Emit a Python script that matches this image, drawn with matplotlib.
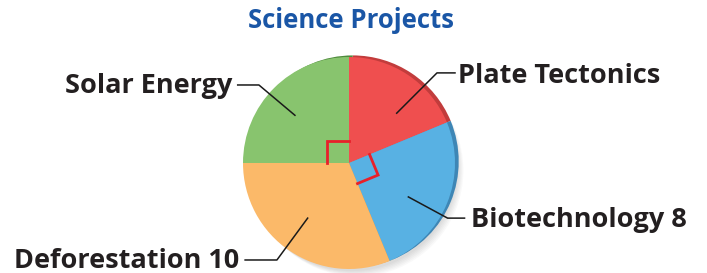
import numpy as np
import matplotlib.pyplot as plt
from matplotlib.patches import Wedge

# slices, clockwise from 12 o'clock
names = ["Plate Tectonics", "Biotechnology", "Deforestation", "Solar Energy"]
values = [6, 8, 10, 8]
shown = [None, 8, 10, None]
colors = ["#ef4f4f", "#58b1e3", "#fbb969", "#88c46e"]
rims = ["#c23c3c", "#3e86b5", "#d9953f", "#4e8a3c"]

# label anchors: (wedge point, elbow, line end, text x, text baseline, ha)
label_pos = [
    ((0.45, 0.47), (0.83, 0.85), (1.00, 0.85), 1.03, 0.755, "left"),
    ((0.56, -0.32), (0.93, -0.52), (1.09, -0.52), 1.155, -0.60, "left"),
    ((-0.39, -0.52), (-0.68, -0.915), (-0.98, -0.915), -1.035, -0.99, "right"),
    ((-0.51, 0.45), (-0.85, 0.736), (-1.05, 0.736), -1.10, 0.66, "right"),
]

fig = plt.figure(figsize=(7.07, 2.73), dpi=100)
ax = fig.add_axes([0, 0, 1, 1])
ax.set_xlim(-349 / 106, (707 - 349) / 106)
ax.set_ylim(-110 / 106, 163 / 106)
ax.set_aspect("equal")
ax.axis("off")

total = sum(values)
start = 90.0
angles = []
for v in values:
    sweep = 360.0 * v / total
    angles.append((start - sweep, start))
    start -= sweep

# soft shadow and darker rim behind
for k in range(6):
    ax.add_patch(Wedge((0.03 + 0.01 * k, -0.02 - 0.01 * k), 1.0, 0, 360,
                       facecolor="black", alpha=0.025, lw=0, zorder=1))
for (a0, a1), c in zip(angles, rims):
    ax.add_patch(Wedge((0.035, 0.015), 1.0, a0, a1, facecolor=c, lw=0, zorder=2))
for (a0, a1), c in zip(angles, colors):
    ax.add_patch(Wedge((0, 0), 1.0, a0, a1, facecolor=c, lw=0, zorder=3))

# right-angle marks on the 90 degree slices
s = 0.21
for i in (1, 3):
    a0, a1 = np.radians(angles[i])
    p0 = np.array([np.cos(a0), np.sin(a0)]) * s
    p1 = np.array([np.cos(a1), np.sin(a1)]) * s
    pts = np.array([p0, p0 + p1, p1])
    ax.plot(pts[:, 0], pts[:, 1], color="#e8202a", lw=2, zorder=4,
            solid_joinstyle="miter")

for name, val, (p, e, q, tx, ty, ha) in zip(names, shown, label_pos):
    ax.plot([p[0], e[0], q[0]], [p[1], e[1], q[1]], color="#1a1a1a", lw=1.1, zorder=5)
    txt = name if val is None else f"{name} {val}"
    ax.text(tx, ty, txt, ha=ha, va="baseline", fontsize=19.5, fontweight="bold",
            family="Open Sans", color="#231f20", zorder=6)

fig.text(351 / 707, 1 - 20 / 273, "Science Projects", ha="center", va="center",
         fontsize=18.5, fontweight="bold", family="Open Sans", color="#1a56a6")

fig.savefig("out.png", dpi=100)
